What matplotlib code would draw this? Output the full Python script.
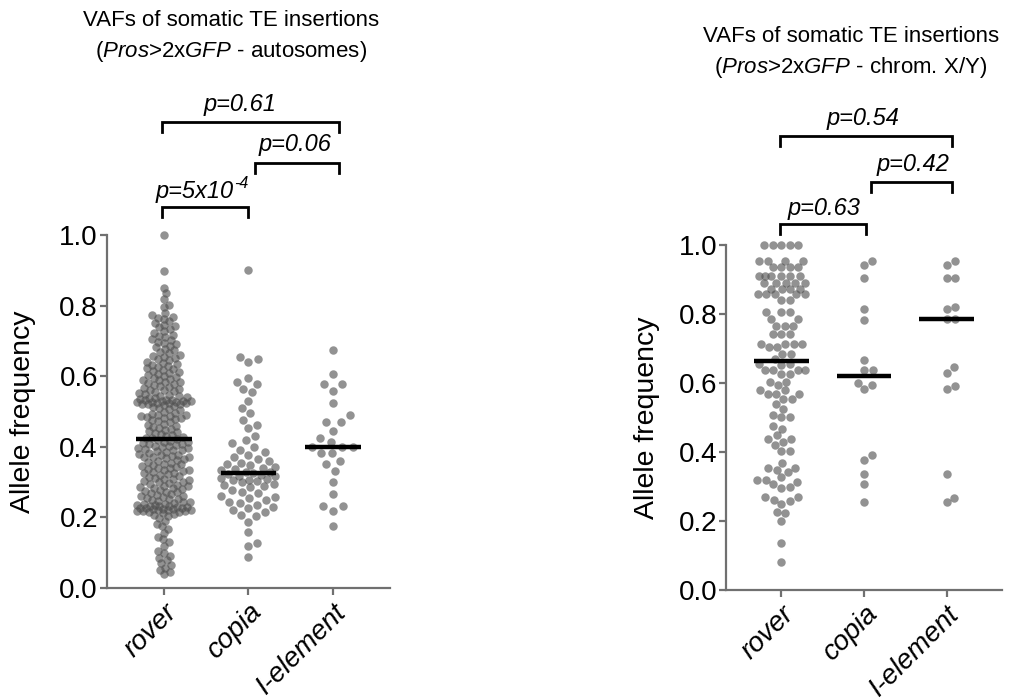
import numpy as np
import matplotlib.pyplot as plt

plt.rcParams['font.family'] = ['Liberation Sans', 'DejaVu Sans']
plt.rcParams['mathtext.fontset'] = 'custom'
plt.rcParams['mathtext.rm'] = 'Liberation Sans'
plt.rcParams['mathtext.it'] = 'Liberation Sans:italic'

categories = ['rover', 'copia', 'I-element']

# autosomes panel
rover_auto = [1.0, 0.898, 0.85, 0.835, 0.82, 0.803, 0.795,
              0.778, 0.772, 0.768, 0.765, 0.762,
              0.755, 0.75, 0.745, 0.742, 0.738, 0.733,
              0.728, 0.722, 0.718, 0.714, 0.71, 0.706, 0.702,
              0.698, 0.694, 0.69, 0.686, 0.682, 0.677, 0.673, 0.668, 0.665, 0.661,
              0.658, 0.655, 0.652, 0.648, 0.645, 0.641, 0.638, 0.635, 0.632, 0.629, 0.626, 0.623, 0.621,
              0.618, 0.615, 0.612, 0.61, 0.607, 0.604, 0.601, 0.598, 0.596, 0.593, 0.59, 0.588, 0.585,
              0.583, 0.581,
              0.578, 0.575, 0.573, 0.57, 0.567, 0.565, 0.562, 0.56, 0.557, 0.555, 0.552, 0.55, 0.548,
              0.545, 0.543, 0.541,
              0.539, 0.537, 0.535, 0.534, 0.533, 0.532, 0.531, 0.53, 0.529, 0.528, 0.527, 0.526, 0.525,
              0.524, 0.523, 0.522, 0.521, 0.52,
              0.518, 0.515, 0.512, 0.509, 0.506, 0.503, 0.5, 0.497, 0.494, 0.491, 0.489, 0.487, 0.486,
              0.485, 0.483, 0.481,
              0.478, 0.475, 0.472, 0.469, 0.466, 0.463, 0.46, 0.457, 0.454, 0.451, 0.448, 0.445, 0.442,
              0.439, 0.436, 0.433, 0.43,
              0.428, 0.426, 0.424,
              0.421, 0.419, 0.417, 0.415, 0.413, 0.411, 0.409, 0.407, 0.405, 0.403, 0.401, 0.399, 0.397,
              0.396, 0.395, 0.392, 0.39, 0.388, 0.386, 0.383, 0.381,
              0.378, 0.376, 0.374, 0.372, 0.371, 0.37, 0.367, 0.365, 0.362, 0.36, 0.357, 0.355, 0.352,
              0.35, 0.348, 0.345, 0.343, 0.341, 0.339, 0.337, 0.335, 0.333, 0.331,
              0.329, 0.327, 0.325, 0.322, 0.32, 0.318, 0.315, 0.313, 0.31, 0.308, 0.305, 0.303, 0.301,
              0.3, 0.298, 0.295, 0.293, 0.29, 0.288, 0.286, 0.284, 0.282, 0.28,
              0.278, 0.276, 0.273, 0.271, 0.268, 0.266, 0.263, 0.262, 0.261, 0.258, 0.256, 0.253, 0.251,
              0.249, 0.247, 0.245, 0.243, 0.241, 0.239, 0.237, 0.235,
              0.234, 0.233, 0.232, 0.231, 0.23, 0.229, 0.228, 0.227, 0.226, 0.225, 0.224, 0.223, 0.222,
              0.221, 0.22, 0.219, 0.218, 0.217, 0.216, 0.214, 0.212, 0.21, 0.207, 0.204,
              0.198, 0.19, 0.182, 0.175, 0.168,
              0.155, 0.145, 0.138, 0.13, 0.12,
              0.105, 0.098, 0.092, 0.085, 0.078, 0.07, 0.064, 0.058, 0.052, 0.045, 0.04]
copia_auto = [0.90, 0.655, 0.648, 0.64, 0.595, 0.585, 0.578, 0.565, 0.555, 0.53, 0.51, 0.495,
              0.475, 0.462, 0.452, 0.43, 0.418, 0.41, 0.4, 0.392,
              0.385, 0.378, 0.37, 0.366, 0.36, 0.355, 0.352, 0.348, 0.343, 0.34, 0.337, 0.333, 0.33,
              0.328, 0.326,
              0.323, 0.32, 0.318, 0.316, 0.312, 0.31, 0.307, 0.305, 0.302, 0.3, 0.296, 0.292, 0.288,
              0.285, 0.278, 0.272, 0.268, 0.262, 0.258, 0.254, 0.25, 0.245, 0.242, 0.236, 0.23, 0.226,
              0.22, 0.214, 0.207, 0.205, 0.188, 0.16, 0.128, 0.119, 0.089]
iel_auto = [0.674, 0.606, 0.578, 0.578, 0.559, 0.524, 0.489, 0.47, 0.47, 0.446, 0.425, 0.414,
            0.399, 0.399, 0.399, 0.383, 0.383, 0.35, 0.36, 0.332, 0.301, 0.266, 0.232, 0.232,
            0.219, 0.175]

# X/Y panel
rover_xy = [1.0, 1.0, 1.0, 1.0, 1.0, 0.955, 0.955, 0.955, 0.955, 0.935, 0.935, 0.935, 0.935,
            0.91, 0.91, 0.91, 0.91, 0.91, 0.91, 0.89, 0.89, 0.89, 0.89, 0.89,
            0.873, 0.873, 0.873, 0.873, 0.858, 0.858, 0.858, 0.858, 0.858, 0.841, 0.841,
            0.806, 0.806, 0.806, 0.786, 0.786, 0.766, 0.766, 0.766, 0.743, 0.743, 0.743,
            0.714, 0.714, 0.714, 0.714, 0.705, 0.705, 0.685, 0.685, 0.67, 0.656, 0.656, 0.652,
            0.637, 0.637, 0.637, 0.637, 0.627, 0.627, 0.604, 0.604, 0.594, 0.579, 0.579,
            0.569, 0.569, 0.569, 0.555, 0.555, 0.54, 0.526, 0.507, 0.502, 0.502, 0.474, 0.468,
            0.448, 0.437, 0.437, 0.43, 0.42, 0.403, 0.403, 0.367, 0.355, 0.355, 0.348, 0.343,
            0.327, 0.318, 0.318, 0.312, 0.306, 0.30, 0.297, 0.269, 0.269, 0.262, 0.258, 0.25,
            0.225, 0.222, 0.2, 0.136, 0.08]
copia_xy = [0.953, 0.943, 0.904, 0.815, 0.784, 0.668, 0.639, 0.639, 0.601, 0.593, 0.584,
            0.391, 0.378, 0.335, 0.306, 0.254]
iel_xy = [0.953, 0.942, 0.904, 0.904, 0.819, 0.815, 0.786, 0.786, 0.645, 0.63, 0.592, 0.584,
          0.335, 0.268, 0.254]

pvals_auto = ['p=0.61', 'p=0.06', 'p=5x10']
pval_exp_auto = '-4'
pvals_xy = ['p=0.54', 'p=0.42', 'p=0.63']

W, H = 1019, 698
fig = plt.figure(figsize=(W / 100, H / 100), dpi=100)


def swarm(vals, ypx, diam, maxw, step=0.5):
    # simple beeswarm in pixel space, overlaps allowed when the row is full
    vals = np.asarray(vals, float)
    cands = [0.0]
    k = 1
    while k * step <= maxw:
        cands += [k * step, -k * step]
        k += 1
    xs = np.zeros(len(vals))
    placed = []
    for i in np.argsort(vals, kind='stable'):
        y = vals[i] * ypx
        near = [(px, py) for px, py in placed if abs(py - y) < diam]
        best, best_d = 0.0, -1.0
        for c in cands:
            d = min((np.hypot(c - px, y - py) for px, py in near), default=np.inf)
            if d >= diam:
                best = c
                break
            if d > best_d:
                best, best_d = c, d
        xs[i] = best
        placed.append((best, y))
    return xs


def panel(rect, groups, diams, maxw, ylab_x):
    ax = fig.add_axes(rect)
    ax.set_xlim(-0.67, 2.67)
    ax.set_ylim(0, 1)
    xpx = rect[2] * W / 3.34
    ypx = rect[3] * H
    for i, vals in enumerate(groups):
        off = swarm(vals, ypx, diams[i], maxw) / xpx
        ax.scatter(i + off, vals, s=37, color='#505050', alpha=0.62, linewidths=0,
                   clip_on=False, zorder=2)
        ax.hlines(np.median(vals), i - 0.33, i + 0.33, color='black', lw=3.2, zorder=3)
    for s in ['top', 'right']:
        ax.spines[s].set_visible(False)
    for s in ['left', 'bottom']:
        ax.spines[s].set_color('#707070')
        ax.spines[s].set_linewidth(1.6)
    ax.set_yticks([0, 0.2, 0.4, 0.6, 0.8, 1.0])
    ax.set_yticklabels(['0.0', '0.2', '0.4', '0.6', '0.8', '1.0'])
    ax.set_xticks(range(3))
    ax.set_xticklabels(categories, rotation=45, ha='right', va='top',
                       rotation_mode='anchor', style='italic', fontsize=20)
    ax.tick_params(axis='both', color='#707070', width=1.6, length=5, labelcolor='black')
    ax.tick_params(axis='y', pad=1.5, labelsize=20)
    ax.tick_params(axis='x', pad=3)
    ax.set_ylabel('Allele frequency', fontsize=20.5)
    ax.yaxis.set_label_coords(ylab_x, 0.5)
    ax.yaxis.label.set_va('center')
    return ax


def bracket(ax, x0, x1, y, label, tx, ty):
    ax.plot([x0, x0, x1, x1], [y - 0.028, y, y, y - 0.028], color='black', lw=2,
            clip_on=False, solid_joinstyle='miter')
    return ax.text(tx, ty, label, ha='center', va='center', fontsize=17, style='italic')


ax1 = panel([0.105, 0.1576, 0.2777, 0.5057], [rover_auto, copia_auto, iel_auto],
            [5.8, 9.5, 11], 27, -0.297)
bracket(ax1, -0.02, 2.07, 1.321, pvals_auto[0], 0.9, 1.37)
bracket(ax1, 1.08, 2.07, 1.205, pvals_auto[1], 1.55, 1.256)
t = bracket(ax1, -0.02, 1.0, 1.08, pvals_auto[2], 0.36, 1.122)
ax1.annotate(pval_exp_auto, xy=(1, 1), xycoords=t, xytext=(0.5, 3), textcoords='offset points',
             ha='left', va='top', fontsize=11.5, style='italic')

ax2 = panel([0.7125, 0.1547, 0.2708, 0.4943], [rover_xy, copia_xy, iel_xy],
            [8.5, 8.5, 8.5], 24, -0.286)
bracket(ax2, -0.02, 2.07, 1.316, pvals_xy[0], 0.99, 1.368)
bracket(ax2, 1.08, 2.07, 1.183, pvals_xy[1], 1.59, 1.232)
bracket(ax2, -0.02, 1.02, 1.061, pvals_xy[2], 0.52, 1.107)

fig.text(231 / W, 1 - 21 / H, 'VAFs of somatic TE insertions', ha='center', va='center', fontsize=16)
fig.text(231 / W, 1 - 52 / H, '($\\mathit{Pros}$>2x$\\mathit{GFP}$ - autosomes)',
         ha='center', va='center', fontsize=16)
fig.text(851 / W, 1 - 37 / H, 'VAFs of somatic TE insertions', ha='center', va='center', fontsize=16)
fig.text(851 / W, 1 - 68 / H, '($\\mathit{Pros}$>2x$\\mathit{GFP}$ - chrom. X/Y)',
         ha='center', va='center', fontsize=16)

fig.savefig('out.png', dpi=100)
